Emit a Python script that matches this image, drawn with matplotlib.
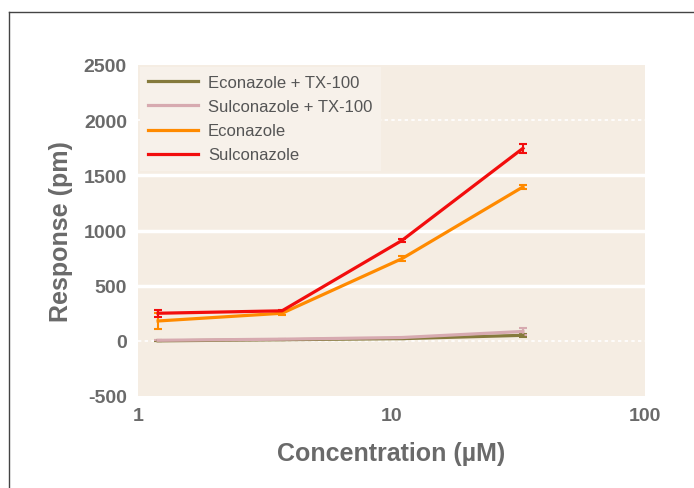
import matplotlib.pyplot as plt
from matplotlib.lines import Line2D

plt.rcParams['font.family'] = ['Liberation Sans', 'DejaVu Sans']
plt.rcParams['axes.unicode_minus'] = False

conc = [1.2, 3.7, 11, 33]
econ_tx = [0, 10, 20, 50]
econ_tx_err = [0, 0, 0, 15]
sulc_tx = [5, 15, 30, 85]
sulc_tx_err = [0, 0, 0, 35]
econ = [180, 250, 745, 1395]
econ_err = [75, 15, 25, 20]
sulc = [250, 272, 910, 1745]
sulc_err = [30, 10, 10, 40]

names = ['Econazole + TX-100', 'Sulconazole + TX-100', 'Econazole', 'Sulconazole']
colors = ['#857a3c', '#d7aab0', '#ff8a00', '#f20d0d']

fig = plt.figure(figsize=(6.94, 4.89), dpi=100)
ax = fig.add_axes([138 / 694, 92 / 489, 507 / 694, 331 / 489])
ax.set_facecolor('#f5ede3')

for yv in [500, 1000, 1500]:
    ax.axhline(yv, color='white', lw=2.5, zorder=1)
for yv in [0, 2000]:
    ax.axhline(yv, color='white', lw=1.2, ls=(0, (2, 2)), zorder=1)

series = [(econ_tx, econ_tx_err), (sulc_tx, sulc_tx_err), (econ, econ_err), (sulc, sulc_err)]
for (vals, errs), name, c in zip(series, names, colors):
    ax.errorbar(conc, vals, yerr=errs, color=c, lw=2.3, capsize=3, capthick=1.5,
                elinewidth=1.5, label=name, zorder=3)

ax.set_xscale('log')
ax.set_xlim(1, 100)
ax.set_ylim(-500, 2500)
ax.set_xticks([1, 10, 100])
ax.set_xticklabels(['1', '10', '100'])
ax.set_xticks([], minor=True)
ax.set_yticks([-500, 0, 500, 1000, 1500, 2000, 2500])
ax.tick_params(length=0, labelsize=14, labelcolor='#6a6a6a', pad=8)
for lab in ax.get_xticklabels() + ax.get_yticklabels():
    lab.set_fontweight('bold')
for s in ax.spines.values():
    s.set_visible(False)

ax.set_xlabel('Concentration (µM)', fontsize=18, fontweight='bold', color='#6a6a6a', labelpad=12)
ax.set_ylabel('Response (pm)', fontsize=18, fontweight='bold', color='#6a6a6a', labelpad=8)

handles = [Line2D([], [], color=c, lw=2.3) for c in colors]
leg = ax.legend(handles, names, loc='upper left', fontsize=12, frameon=True,
                facecolor='#f7f1ea', edgecolor='none', framealpha=1, fancybox=False,
                handlelength=3.0, handletextpad=0.6, borderaxespad=0.1,
                borderpad=0.5, labelspacing=0.55)
for t in leg.get_texts():
    t.set_color('#555555')

fig.add_artist(Line2D([9 / 694, 9 / 694], [0, 1 - 13 / 489], color='#444444', lw=1))
fig.add_artist(Line2D([9 / 694, 1], [1 - 13 / 489, 1 - 13 / 489], color='#444444', lw=1))

fig.savefig('out.png', dpi=100)
